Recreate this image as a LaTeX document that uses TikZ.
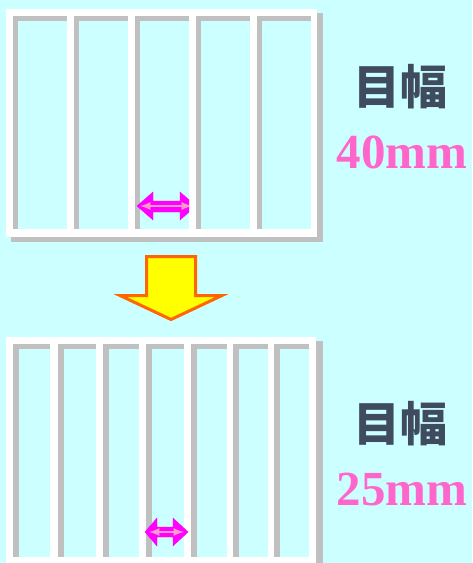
\documentclass[tikz,border=0pt]{standalone}
\usepackage{fontspec}
\usepackage{xcolor}
\newfontfamily\jpfont{Noto Sans CJK JP}
\newfontfamily\numfont{Liberation Serif}
\definecolor{bgcyan}{HTML}{CCFFFF}
\definecolor{bargray}{HTML}{C0C0C0}
\definecolor{labeldark}{HTML}{3F4B5E}
\definecolor{labelpink}{HTML}{FF66CC}
\definecolor{arrowmagenta}{HTML}{FF00FF}
\definecolor{innerpink}{HTML}{FF99CC}
\definecolor{arrowyellow}{HTML}{FFFF00}
\definecolor{arroworange}{HTML}{FF6600}

\tikzset{
  meshlabel/.style={text=labeldark, font=\jpfont\bfseries\fontsize{47}{50}\selectfont, inner sep=0pt},
  sizelabel/.style={text=labelpink, font=\numfont\bfseries\fontsize{49}{52}\selectfont, inner sep=0pt, anchor=base}
}

\begin{document}
\begin{tikzpicture}[x=1pt, y=-1pt]
\clip (0,0) rectangle (472,563);
\fill[bgcyan] (0,0) rectangle (472,563);

% upper screen, 5 openings
\fill[bargray] (11,13) rectangle (323,242);
\fill[white] (6,9) rectangle (317,237);
\foreach \a in {13,74,135,196,257}{
  \fill[bargray] (\a,16) rectangle (\a+54,229);
  \fill[bgcyan] (\a+5,21) rectangle (\a+54,229);
}
\begin{scope}
\clip (0,0) rectangle (189,563);
\filldraw[arrowmagenta] (137,206) -- (153,192) -- (153,201) -- (180,201) -- (180,192) -- (196,206)
  -- (180,220) -- (180,212) -- (153,212) -- (153,220) -- cycle;
\draw[innerpink, line width=2.5, <->, >=latex] (140,206) -- (192,206);
\end{scope}

% arrow down
\filldraw[fill=arrowyellow, draw=arroworange, line width=3, line join=miter]
  (146.5,256.5) -- (195.5,256.5) -- (195.5,295.5) -- (222,295.5) -- (171,319.5)
  -- (120,295.5) -- (146.5,295.5) -- cycle;

% lower screen, 7 openings
\fill[bargray] (11,341) rectangle (323,575);
\fill[white] (6,337) rectangle (316,570);
\foreach \a/\b in {13/50, 58/96, 103/139, 146/184, 191/227, 233/268, 274/309}{
  \fill[bargray] (\a,343.5) rectangle (\b,557);
  \fill[bgcyan] (\a+5.5,348.5) rectangle (\b,557);
}
\filldraw[arrowmagenta] (145,532) -- (157,518) -- (157,527) -- (173,527) -- (173,518) -- (188,532)
  -- (173,546) -- (173,537) -- (157,537) -- (157,546) -- cycle;
\draw[innerpink, line width=2.5, <->, >=latex] (149,532) -- (184,532);

\node[meshlabel] (wtop) at (400.5,86.5) {目幅};
\node[sizelabel] (ntop) at (402,168) {40mm};
\node[meshlabel] (wbot) at (400.5,424) {目幅};
\node[sizelabel] (nbot) at (402,505) {25mm};
\end{tikzpicture}
\end{document}
